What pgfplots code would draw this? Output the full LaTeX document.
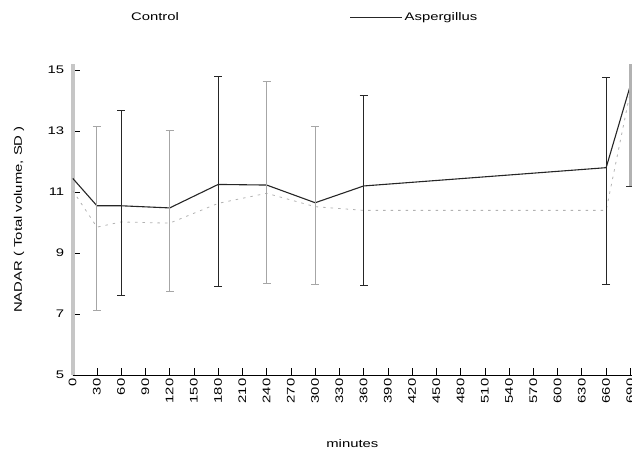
\documentclass[border=0pt]{standalone}
\usepackage{fontspec}
\setmainfont{Liberation Sans}[FakeStretch=1.35]
\usepackage{pgfplots}
\pgfplotsset{compat=1.18}
\pgfplotsset{asp legend/.style={legend image code/.code={\draw[##1] (0pt,0pt) -- (43pt,0pt); \path (0pt,0pt) -- (52pt,0pt);}}}
\begin{document}
\begin{tikzpicture}
\begin{axis}[
  name=ax,
  scale only axis,
  width=559.3pt, height=311pt,
  xmin=0, xmax=692, ymin=5, ymax=15.2,
  axis lines=left,
  x axis line style={-, black, line width=0.8pt},
  y axis line style={-, gray!45, line width=4pt},
  xtick={0,30,...,690}, ytick={5,7,...,15},
  tick align=inside, major tick length=7pt,
  tick style={black, line width=0.8pt},
  xticklabel style={rotate=90, anchor=east, font=\fontsize{11}{12}\selectfont},
  yticklabel style={font=\fontsize{11}{12}\selectfont, xshift=-5pt},
  /pgf/number format/assume math mode=true,
  xlabel={minutes}, ylabel={NADAR ( Total volume, SD )},
  label style={font=\fontsize{11}{12}\selectfont},
  xlabel style={at={(axis description cs:0.5,-0.22)}, anchor=center},
  ylabel style={at={(axis description cs:-0.096,0.5)}, anchor=center},
  legend style={draw=none, fill=none, at={(axis description cs:0.095,1.151)}, anchor=west,
    font=\fontsize{11}{12}\selectfont,
    /tikz/every even column/.append style={column sep=169pt}},
  legend columns=2,
]
% Control (dotted)
\addplot[forget plot, gray!60, line width=0.8pt, dash pattern=on 2.5pt off 5pt] coordinates {
(0,11.05) (30,9.85) (60,10.02) (120,9.98) (180,10.63) (240,10.96) (300,10.52) (360,10.4) (660,10.4) (690,14.3)};
% Aspergillus (solid)
\addplot[forget plot, black!85, line width=1.1pt] coordinates {
(0,11.45) (30,10.55) (60,10.55) (120,10.48) (180,11.25) (240,11.23) (300,10.65) (360,11.2) (660,11.8) (690,14.5)};
% Control error bars
\addplot[forget plot, draw=none,
  error bars/.cd, y dir=both, y explicit, error mark=-,
  error bar style={draw=gray!70, line width=0.9pt},
  error mark options={rotate=90, draw=gray!70, mark size=4pt, line width=0.9pt}] coordinates {
(30,9.85) += (0,3.30) -= (0,2.72)
(120,9.98) += (0,3.04) -= (0,2.25)
(240,10.96) += (0,3.66) -= (0,2.96)
(300,10.52) += (0,2.64) -= (0,2.55)};
% Aspergillus error bars
\addplot[forget plot, draw=none,
  error bars/.cd, y dir=both, y explicit, error mark=-,
  error bar style={draw=black!85, line width=0.9pt},
  error mark options={rotate=90, draw=black!85, mark size=4pt, line width=0.9pt}] coordinates {
(60,10.55) += (0,3.14) -= (0,2.93)
(180,11.25) += (0,3.53) -= (0,3.33)
(360,11.2) += (0,2.98) -= (0,3.25)
(660,11.8) += (0,2.96) -= (0,3.83)};
\addplot[forget plot, draw=none,
  error bars/.cd, y dir=both, y explicit, error mark=-,
  error bar style={draw=gray!60, line width=2.5pt},
  error mark options={rotate=90, draw=black!80, mark size=4pt, line width=0.9pt}] coordinates {
(690,14.5) += (0,3.5) -= (0,3.33)};
\addlegendimage{empty legend}
\addlegendentry{Control}
\addlegendimage{black!85, line width=0.8pt, asp legend}
\addlegendentry{Aspergillus}
\end{axis}
\pgfresetboundingbox
\path (ax.south west) ++(-72.7pt,-73pt) rectangle ++(632pt,448pt);
\end{tikzpicture}
\end{document}
